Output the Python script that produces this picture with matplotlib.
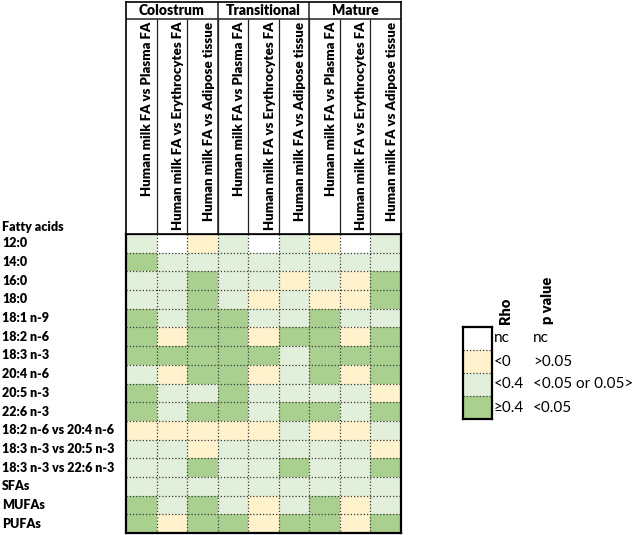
import matplotlib.pyplot as plt
import matplotlib.transforms as mtransforms
from matplotlib.colors import ListedColormap
import numpy as np

plt.rcParams['font.family'] = ['Lato', 'DejaVu Sans']

W, H = 634, 535

fatty_acids = ['12:0', '14:0', '16:0', '18:0', '18:1 n-9', '18:2 n-6', '18:3 n-3',
               '20:4 n-6', '20:5 n-3', '22:6 n-3', '18:2 n-6 vs 20:4 n-6',
               '18:3 n-3 vs 20:5 n-3', '18:3 n-3 vs 22:6 n-3', 'SFAs', 'MUFAs', 'PUFAs']
stages = ['Colostrum', 'Transitional', 'Mature']
comparisons = ['Human milk FA vs Plasma FA', 'Human milk FA vs Erythrocytes FA',
               'Human milk FA vs Adipose tissue']

# class of each cell: 0 = nc, 1 = rho < 0, 2 = rho < 0.4, 3 = rho >= 0.4
colostrum = [[2, 0, 1], [3, 2, 2], [2, 2, 3], [2, 2, 3], [3, 2, 3], [3, 1, 3],
             [3, 3, 3], [2, 1, 3], [3, 2, 2], [3, 2, 3], [1, 1, 1], [2, 2, 1],
             [2, 2, 3], [2, 2, 2], [3, 2, 3], [3, 1, 3]]
transitional = [[2, 0, 2], [2, 2, 2], [2, 2, 1], [2, 1, 2], [3, 2, 2], [3, 1, 3],
                [3, 3, 2], [3, 1, 2], [3, 2, 2], [3, 2, 3], [1, 1, 2], [2, 2, 2],
                [2, 2, 3], [2, 2, 2], [2, 1, 2], [3, 1, 3]]
mature = [[1, 0, 2], [2, 2, 2], [2, 1, 3], [1, 1, 3], [3, 2, 2], [3, 1, 3],
          [3, 3, 3], [3, 1, 3], [2, 2, 1], [3, 2, 3], [1, 1, 2], [2, 2, 1],
          [2, 2, 3], [2, 2, 2], [3, 1, 2], [3, 1, 3]]

legend_rho = ['nc', '<0', '<0.4', '≥0.4']
legend_p = ['nc', '>0.05', '<0.05 or 0.05>', '<0.05']
colors = ['#FFFFFF', '#FFF2CC', '#E2EFDA', '#A9D08E']

cmap = ListedColormap(colors)
codes = np.hstack([np.array(colostrum), np.array(transitional), np.array(mature)])
nrow, ncol = codes.shape
dots = (0, (1, 1.6))
bold = 'heavy'

fig = plt.figure(figsize=(W / 100, H / 100), dpi=100)

# main grid
ax = fig.add_axes([126 / W, (H - 533) / H, 275 / W, 299 / H])
ax.pcolormesh(np.arange(ncol + 1), np.arange(nrow + 1), codes,
              cmap=cmap, vmin=-0.5, vmax=3.5)
ax.set_xlim(0, ncol)
ax.set_ylim(nrow, 0)
ax.hlines(np.arange(1, nrow), 0, ncol, colors='#3a3a3a', linestyles=dots, lw=0.9)
ax.vlines(np.arange(1, ncol), 0, nrow, colors='#3a3a3a', linestyles=dots, lw=0.9)
ax.set_xticks([])
ax.set_yticks([])
for s in ax.spines.values():
    s.set_linewidth(1.6)

trans = mtransforms.blended_transform_factory(fig.transFigure, ax.transData)
for i, lab in enumerate(fatty_acids):
    ax.text(2 / W, i + 0.5, lab, transform=trans, ha='left', va='center',
            fontsize=9, fontweight=bold, clip_on=False)
ax.text(2 / W, -0.38, 'Fatty acids', transform=trans, ha='left', va='center',
        fontsize=9, fontweight=bold, clip_on=False)

# header table
hax = fig.add_axes([126 / W, (H - 234) / H, 275 / W, 232 / H])
hax.set_xlim(0, ncol)
hax.set_ylim(0, 1)
hax.set_xticks([])
hax.set_yticks([])
for s in hax.spines.values():
    s.set_linewidth(1.2)
gy = (234 - 19) / 232
hax.axhline(gy, color='#222222', lw=1.1)
hax.vlines(np.arange(1, ncol), 0, gy, colors='#222222', lw=0.9)
hax.vlines([3, 6], 0, 1, colors='#222222', lw=1.1)
for g, st in enumerate(stages):
    hax.text(3 * g + 1.5, (1 + gy) / 2, st, ha='center', va='center',
             fontsize=10, fontweight=bold)
for j in range(ncol):
    hax.text(j + 0.7, gy - 3 / 232, comparisons[j % 3], rotation=90,
             ha='center', va='top', fontsize=9.5, fontweight=bold)

# legend
lax = fig.add_axes([463 / W, (H - 419) / H, 29 / W, 92 / H])
lax.pcolormesh(np.arange(2), np.arange(5), np.arange(4).reshape(4, 1),
               cmap=cmap, vmin=-0.5, vmax=3.5)
lax.set_xlim(0, 1)
lax.set_ylim(4, 0)
lax.hlines(np.arange(1, 4), 0, 1, colors='#3a3a3a', linestyles=dots, lw=0.9)
lax.set_xticks([])
lax.set_yticks([])
for s in lax.spines.values():
    s.set_linewidth(1.6)
for k in range(4):
    lax.text(1.05, k + 0.5, legend_rho[k], ha='left', va='center',
             fontsize=11, clip_on=False)
    lax.text(2.42, k + 0.5, legend_p[k], ha='left', va='center',
             fontsize=11, clip_on=False)
lax.text(1.45, 1.03, 'Rho', rotation=90, ha='center', va='bottom',
         fontsize=10.5, fontweight=bold, transform=lax.transAxes)
lax.text(2.9, 1.03, 'p value', rotation=90, ha='center', va='bottom',
         fontsize=10.5, fontweight=bold, transform=lax.transAxes)

fig.savefig('out.png', dpi=100)
